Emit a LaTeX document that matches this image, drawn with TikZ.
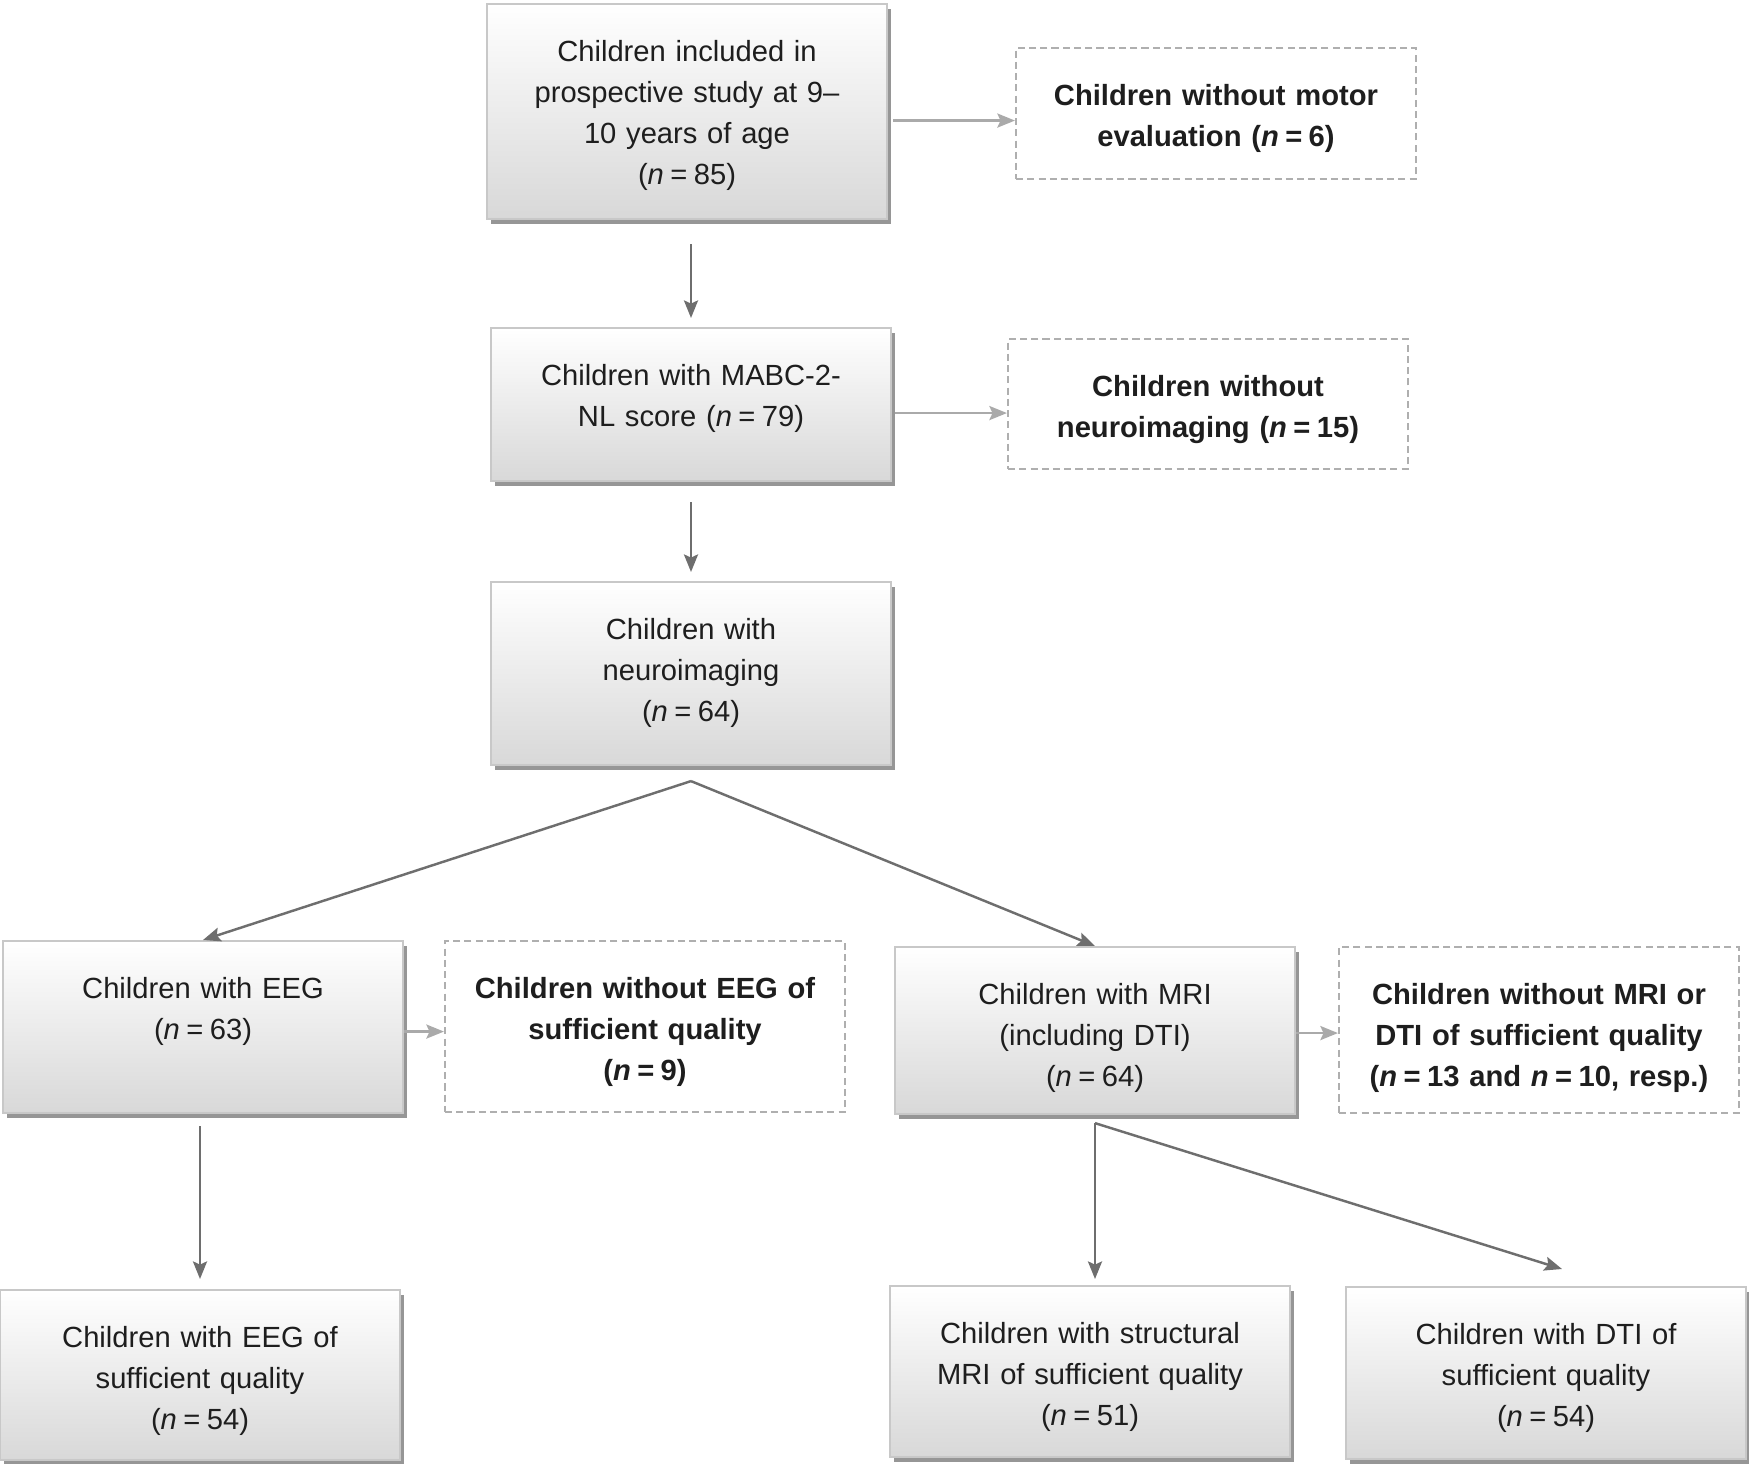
\documentclass[tikz,border=0pt]{standalone}
\usepackage{fontspec}
\setmainfont{Liberation Sans}
\usepackage{tikz}
\usetikzlibrary{arrows.meta,shadows,calc}
\definecolor{boxline}{RGB}{200,200,200}
\definecolor{boxfill}{RGB}{216,216,216}
\definecolor{boxshadow}{RGB}{150,150,150}
\definecolor{dashline}{RGB}{175,175,175}
\definecolor{flowline}{RGB}{110,110,110}
\definecolor{sideline}{RGB}{170,170,170}
\definecolor{textcol}{RGB}{30,30,30}
\newcommand{\nval}[1]{\textit{n}\hspace{0.22em}=\hspace{0.22em}#1}

\begin{document}
\begin{tikzpicture}[
  font=\fontsize{8.3}{11.7}\selectfont,
  box/.style={draw=boxline,line width=0.6pt,top color=white,bottom color=boxfill,
    drop shadow={shadow xshift=0.04cm,shadow yshift=-0.05cm,fill=boxshadow,opacity=1},
    text width=3.8cm,align=center,inner xsep=0.1cm,inner ysep=0pt,
    text height=0.57cm,text depth=#1,anchor=north,text=textcol},
  gone/.style={draw=dashline,line width=0.6pt,dash pattern=on 2pt off 1.2pt,fill=white,
    text width=3.8cm,align=center,inner xsep=0.1cm,inner ysep=0pt,
    text height=0.57cm,text depth=#1,anchor=north,
    font=\fontsize{8.3}{11.7}\selectfont\bfseries,text=textcol},
  flow/.style={draw=flowline,line width=0.7pt,-{Stealth[length=5pt,width=4pt,inset=0.9pt]}},
  side/.style={draw=sideline,line width=0.7pt,-{Stealth[length=5pt,width=4pt,inset=0.9pt]}}
]
\useasboundingbox (0,0) rectangle (17.49,-14.63);

% main line
\node[box=1.58cm] (incl) at (6.87,-0.03) {Children included in\\prospective study at 9–\\10 years of age\\(\nval{85})};
\node[box=0.96cm] (mabc) at (6.91,-3.27) {Children with MABC-2-\\NL score (\nval{79})};
\node[box=1.26cm] (neuro) at (6.91,-5.81) {Children with\\neuroimaging\\(\nval{64})};
\node[box=1.15cm] (eeg) at (2.03,-9.40) {Children with EEG\\(\nval{63})};
\node[box=1.10cm] (mri) at (10.95,-9.46) {Children with MRI\\(including DTI)\\(\nval{64})};
\node[box=1.13cm] (eegok) at (2.00,-12.89) {Children with EEG of\\sufficient quality\\(\nval{54})};
\node[box=1.14cm] (smri) at (10.90,-12.85) {Children with structural\\MRI of sufficient quality\\(\nval{51})};
\node[box=1.15cm] (dti) at (15.46,-12.86) {Children with DTI of\\sufficient quality\\(\nval{54})};

% excluded
\node[gone=0.74cm] (nomotor) at (12.16,-0.47) {Children without motor\\evaluation (\nval{6})};
\node[gone=0.73cm] (noneuro) at (12.08,-3.38) {Children without\\neuroimaging (\nval{15})};
\node[gone=1.14cm] (noeeg) at (6.45,-9.40) {Children without EEG of\\sufficient quality\\(\nval{9})};
\node[gone=1.09cm] (nomri) at (15.39,-9.46) {Children without MRI or\\DTI of sufficient quality\\(\nval{13} and \nval{10}, resp.)};

% arrows
\draw[side,shorten <=0.05cm] ([yshift=-0.07cm]incl.east |- nomotor.west) -- ([yshift=-0.07cm]nomotor.west);
\draw[flow,shorten <=0.24cm,shorten >=0.09cm] (incl.south -| mabc.north) -- (mabc.north);
\draw[side,shorten <=0.03cm] ([yshift=-0.09cm]mabc.east |- noneuro.west) -- ([yshift=-0.09cm]noneuro.west);
\draw[flow,shorten <=0.2cm,shorten >=0.09cm] (mabc.south) -- (neuro.north);
\coordinate (split) at ([yshift=-0.15cm]neuro.south);
\draw[flow] (split) -- (eeg.north);
\draw[flow] (split) -- (mri.north);
\draw[side] ([yshift=-0.05cm]eeg.east |- noeeg.west) -- ([yshift=-0.05cm]noeeg.west);
\draw[side] ([yshift=-0.03cm]mri.east |- nomri.west) -- ([yshift=-0.03cm]nomri.west);
\draw[flow,shorten <=0.12cm,shorten >=0.1cm] (eeg.south -| eegok.north) -- (eegok.north);
\coordinate (mrisplit) at ([yshift=-0.08cm]mri.south);
\draw[flow,shorten >=0.06cm] (mrisplit) -- (mrisplit |- smri.north);
\draw[flow] (mrisplit) -- ([xshift=0.16cm,yshift=0.17cm]dti.north);
\end{tikzpicture}
\end{document}
